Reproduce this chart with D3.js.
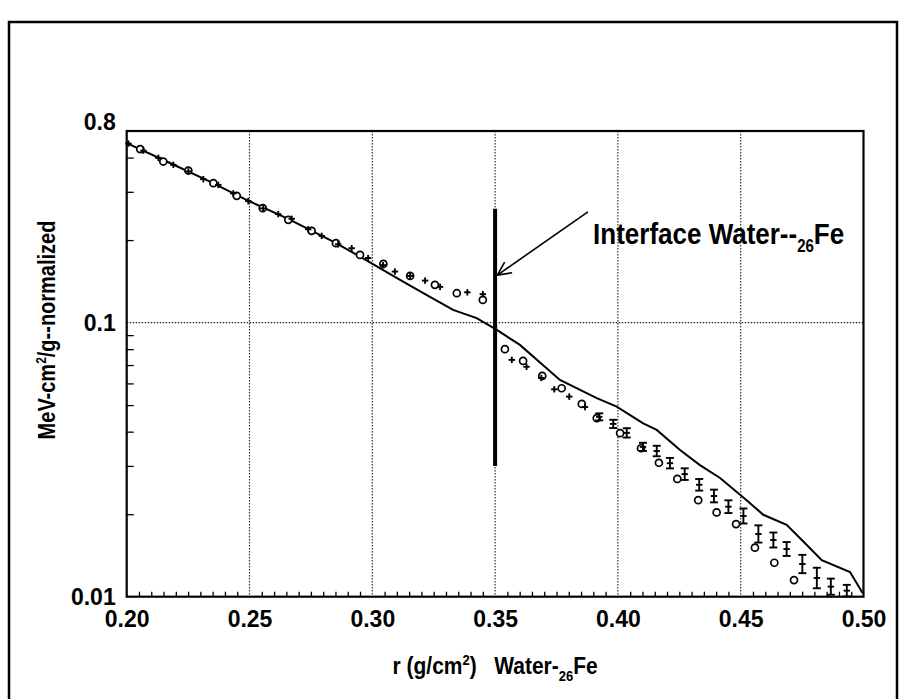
<!DOCTYPE html>
<html><head><meta charset="utf-8">
<script src="https://cdn.jsdelivr.net/npm/d3@7"></script>
<style>
body{margin:0;background:#fff;}
svg text{font-family:"Liberation Sans",Arial,Helvetica,sans-serif;font-weight:bold;fill:#000;}
</style></head><body>
<svg id="chart" width="902" height="699"></svg>
<script>
// ---------- data ----------
const xDomain = [0.20, 0.50];
const yDomain = [0.01, 0.5];
const xTicks = [0.20, 0.25, 0.30, 0.35, 0.40, 0.45, 0.50];
const xTickLabels = ["0.20", "0.25", "0.30", "0.35", "0.40", "0.45", "0.50"];
const xGrid = [0.25, 0.30, 0.35, 0.40, 0.45];
const yTicks = [0.01, 0.1, 0.5];
const yTickLabels = ["0.01", "0.1", "0.8"];
const yGrid = [0.1];
const yMinor = [0.02, 0.03, 0.04, 0.05, 0.06, 0.07, 0.08, 0.09, 0.2, 0.3, 0.4];

// calculated curve (solid line)
const modelR = [0.200, 0.2163, 0.2339, 0.2502, 0.2651, 0.2841, 0.2950, 0.3113, 0.3206, 0.3329, 0.3425, 0.3507,
  0.3601, 0.3764, 0.3914, 0.3995, 0.4103, 0.4158, 0.4253, 0.4334, 0.4416, 0.4524, 0.4592, 0.4687, 0.4755,
  0.4830, 0.4945, 0.4997];
const modelV = [0.4516, 0.387, 0.327, 0.2765, 0.2404, 0.1975, 0.1741, 0.1431, 0.1284, 0.1113, 0.1038, 0.0940,
  0.0829, 0.0618, 0.0530, 0.0494, 0.0429, 0.0406, 0.0343, 0.0302, 0.0271, 0.0225, 0.0199, 0.0183, 0.0159,
  0.0136, 0.0123, 0.0103];

// open-circle series
const circleR = [0.2055, 0.2149, 0.2251, 0.2353, 0.2448, 0.2554, 0.2658, 0.2753, 0.2852, 0.2950, 0.3045, 0.3154,
  0.3255, 0.3344, 0.3450, 0.3540, 0.3614, 0.3692, 0.3771, 0.3853, 0.3914, 0.4009, 0.4094, 0.4167, 0.4242,
  0.4327, 0.4402, 0.4481, 0.4558, 0.4637, 0.4717];
const circleV = [0.4294, 0.3869, 0.3587, 0.3227, 0.2901, 0.2615, 0.2371, 0.2161, 0.1949, 0.1766, 0.1637, 0.148,
  0.1373, 0.128, 0.121, 0.0800, 0.0725, 0.0639, 0.0576, 0.0505, 0.0448, 0.0395, 0.0348, 0.0308, 0.0269,
  0.0225, 0.0203, 0.0184, 0.0151, 0.0133, 0.0115];

// cross series with relative error bars
const plusR = [0.2007, 0.2068, 0.2129, 0.2190, 0.2251, 0.2312, 0.2373, 0.2434, 0.2495, 0.2556, 0.2617, 0.2672,
  0.2739, 0.2794, 0.2861, 0.2916, 0.2983, 0.3044, 0.3092, 0.3154, 0.3215, 0.3276, 0.3387, 0.3450,
  0.3568, 0.3628, 0.3688, 0.3741, 0.3802, 0.3866, 0.3924, 0.3981, 0.4036, 0.4102, 0.4158, 0.4212,
  0.4272, 0.4331, 0.4391, 0.4450, 0.4511, 0.4572, 0.4633, 0.4687, 0.4751, 0.4810, 0.4867, 0.4932];
const plusV = [0.450, 0.424, 0.399, 0.3763, 0.356, 0.3337, 0.3180, 0.296, 0.2775, 0.261, 0.2487, 0.2391,
  0.219, 0.2072, 0.193, 0.1868, 0.172, 0.162, 0.1535, 0.148, 0.1423, 0.135, 0.129, 0.127,
  0.0731, 0.069, 0.0628, 0.0571, 0.0537, 0.0492, 0.0453, 0.0427, 0.0396, 0.0352, 0.0340, 0.0307,
  0.0280, 0.0256, 0.0233, 0.0213, 0.0197, 0.01694, 0.0161, 0.01493, 0.01316, 0.0117, 0.01088, 0.01052];
const plusErr = [0, 0, 0, 0, 0, 0, 0, 0, 0, 0, 0, 0, 0, 0, 0, 0, 0, 0, 0, 0, 0, 0, 0, 0,
  0, 0, 0, 0, 0, 0, 0.03, 0.035, 0.04, 0.035, 0.045, 0.045, 0.05, 0.05, 0.055, 0.055, 0.065, 0.075,
  0.065, 0.06, 0.08, 0.09, 0.07, 0.05];

// interface marker
const interfaceR = 0.35;
const interfaceV = [0.03, 0.26];

// ---------- layout ----------
const W = 902, H = 699;
const margin = {left: 126.7, right: 38.5, top: 131, bottom: 102.3};
const svg = d3.select("#chart");
const x = d3.scaleLinear().domain(xDomain).range([margin.left, W - margin.right]);
const y = d3.scaleLog().domain(yDomain).range([H - margin.bottom, margin.top]);
const x0 = x.range()[0], x1 = x.range()[1], yb = y.range()[0], yt = y.range()[1];
const STRETCH = 1.17;

// outer frame
svg.append("rect").attr("x", 9).attr("y", 22).attr("width", 888).attr("height", 720)
  .attr("fill", "none").attr("stroke", "#000").attr("stroke-width", 2.5);

// grid
const grid = svg.append("g").attr("stroke", "#222").attr("stroke-width", 1.1).attr("stroke-dasharray", "1.5,1.5");
grid.selectAll("line.gx").data(xGrid).join("line")
  .attr("x1", d => x(d)).attr("x2", d => x(d)).attr("y1", yt).attr("y2", yb);
grid.selectAll("line.gy").data(yGrid).join("line")
  .attr("x1", x0).attr("x2", x1).attr("y1", d => y(d)).attr("y2", d => y(d));

// minor ticks
const xMinor = d3.range(0.205, 0.4951, 0.005).filter(v => Math.abs(Math.round(v / 0.05) * 0.05 - v) > 1e-6);
svg.append("g").attr("transform", `translate(0,${yb})`)
  .call(d3.axisBottom(x).tickValues(xMinor).tickSize(-5).tickFormat(""))
  .call(g => g.select(".domain").remove())
  .selectAll("line").attr("stroke", "#000").attr("stroke-width", 1.3);
svg.append("g").attr("transform", `translate(${x0},0)`)
  .call(d3.axisLeft(y).tickValues(yMinor).tickSize(-7).tickFormat(""))
  .call(g => g.select(".domain").remove())
  .selectAll("line").attr("stroke", "#000").attr("stroke-width", 1.3);

// tick labels
svg.append("g").attr("transform", `translate(0,${yb})`)
  .call(d3.axisBottom(x).tickValues(xTicks).tickSize(0).tickPadding(0)
    .tickFormat((d, i) => xTickLabels[i]))
  .call(g => g.select(".domain").remove())
  .selectAll("text").attr("dy", null).attr("y", 30).attr("font-size", 23)
  .attr("font-family", "Liberation Sans, Arial, sans-serif").attr("font-weight", "bold");
svg.append("g").attr("transform", `translate(${x0},0)`)
  .call(d3.axisLeft(y).tickValues(yTicks).tickSize(0).tickPadding(11)
    .tickFormat((d, i) => yTickLabels[i]))
  .call(g => g.select(".domain").remove())
  .selectAll("text").attr("font-size", 23)
  .attr("font-family", "Liberation Sans, Arial, sans-serif").attr("font-weight", "bold")
  .attr("dy", (d, i) => i === yTicks.length - 1 ? "-0.05em" : "0.35em");

// plot border
svg.append("rect").attr("x", x0).attr("y", yt).attr("width", x1 - x0).attr("height", yb - yt)
  .attr("fill", "none").attr("stroke", "#000").attr("stroke-width", 2.2);

// model line
const line = d3.line().x(d => x(d[0])).y(d => y(d[1]));
svg.append("path").datum(modelR.map((r, i) => [r, modelV[i]]))
  .attr("d", line).attr("fill", "none").attr("stroke", "#000").attr("stroke-width", 2);

// interface bar
svg.append("line").attr("x1", x(interfaceR)).attr("x2", x(interfaceR))
  .attr("y1", y(interfaceV[0])).attr("y2", y(interfaceV[1]))
  .attr("stroke", "#000").attr("stroke-width", 4);

// circles
svg.append("g").selectAll("circle").data(circleR.map((r, i) => [r, circleV[i]])).join("circle")
  .attr("cx", d => x(d[0])).attr("cy", d => y(d[1])).attr("r", 3.5)
  .attr("fill", "#fff").attr("stroke", "#000").attr("stroke-width", 1.7);

// crosses + error bars
const pts = plusR.map((r, i) => ({r, v: plusV[i], e: plusErr[i]}));
const pg = svg.append("g").attr("stroke", "#000").attr("stroke-width", 1.9);
pts.forEach(p => {
  const cx = x(p.r), cy = y(p.v);
  pg.append("line").attr("x1", cx - 3.2).attr("x2", cx + 3.2).attr("y1", cy).attr("y2", cy);
  if (p.e > 0) {
    const lo = y(p.v / (1 + p.e)), hi = y(p.v * (1 + p.e));
    pg.append("line").attr("x1", cx).attr("x2", cx).attr("y1", lo).attr("y2", hi);
    pg.append("line").attr("x1", cx - 4).attr("x2", cx + 4).attr("y1", lo).attr("y2", lo);
    pg.append("line").attr("x1", cx - 4).attr("x2", cx + 4).attr("y1", hi).attr("y2", hi);
  } else {
    pg.append("line").attr("x1", cx).attr("x2", cx).attr("y1", cy - 3.2).attr("y2", cy + 3.2);
  }
});

// annotation
const tip = [x(0.3509), y(0.149)], tail = [x(0.3878), y(0.2535)];
const ang = Math.atan2(tail[1] - tip[1], tail[0] - tip[0]);
svg.append("line").attr("x1", tail[0]).attr("y1", tail[1]).attr("x2", tip[0]).attr("y2", tip[1])
  .attr("stroke", "#000").attr("stroke-width", 1.6);
[-0.45, 0.45].forEach(a => {
  svg.append("line").attr("x1", tip[0]).attr("y1", tip[1])
    .attr("x2", tip[0] + 15 * Math.cos(ang + a)).attr("y2", tip[1] + 15 * Math.sin(ang + a))
    .attr("stroke", "#000").attr("stroke-width", 1.6);
});
const ann = svg.append("g").attr("transform", `translate(${x(0.3899)},${y(0.194)}) scale(1,${STRETCH})`)
  .append("text").attr("font-size", 26);
ann.append("tspan").text("Interface Water--");
ann.append("tspan").attr("font-size", 15).attr("dy", 7).text("26");
ann.append("tspan").attr("dy", -7).text("Fe");

// axis titles
const xt = svg.append("g").attr("transform", `translate(${(x0 + x1) / 2},674) scale(1,${STRETCH})`)
  .append("text").attr("text-anchor", "middle").attr("font-size", 21).style("white-space", "pre");
xt.append("tspan").text("r (g/cm");
xt.append("tspan").attr("font-size", 13).attr("dy", -8).text("2");
xt.append("tspan").attr("dy", 8).text(")   Water-");
xt.append("tspan").attr("font-size", 13).attr("dy", 6).text("26");
xt.append("tspan").attr("dy", -6).text("Fe");

const yt2 = svg.append("g").attr("transform", `translate(55,330) rotate(-90) scale(1,${STRETCH})`)
  .append("text").attr("text-anchor", "middle").attr("font-size", 20);
yt2.append("tspan").text("MeV-cm");
yt2.append("tspan").attr("font-size", 12).attr("dy", -8).text("2");
yt2.append("tspan").attr("dy", 8).text("/g--normalized");
</script></body></html>
